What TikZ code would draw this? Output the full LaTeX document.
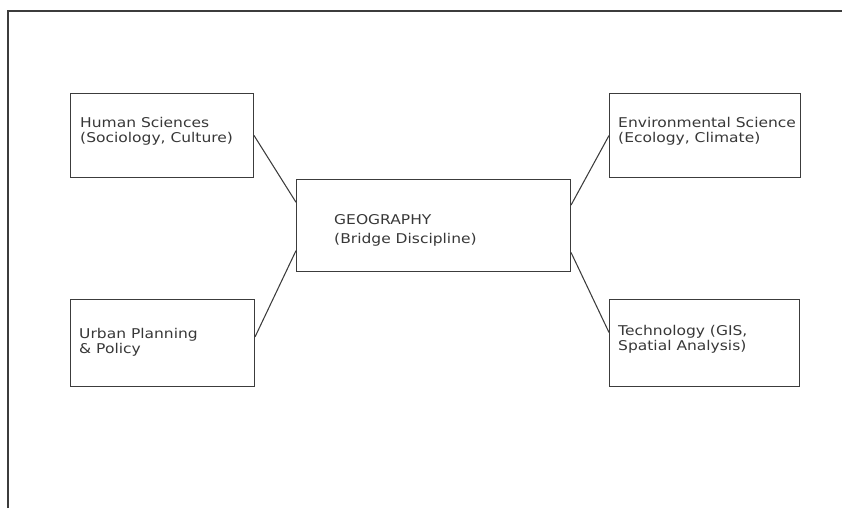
\documentclass[tikz,border=0pt]{standalone}
\usepackage{fontspec}
\setmainfont{DejaVu Sans}[FakeStretch=1.15]
\usepackage{tikz}
\usetikzlibrary{positioning, calc}
\definecolor{linedark}{RGB}{60, 60, 60}
\definecolor{textdark}{RGB}{55, 55, 55}

\begin{document}
\begin{tikzpicture}[
        box/.style={draw=linedark, line width=0.9pt, anchor=north west, inner sep=0pt},
        txt/.style={anchor=north west, inner sep=0pt, align=left, text=textdark,
                    font=\fontsize{11.5}{12.8}\selectfont},
        link/.style={draw=linedark, line width=0.9pt}
      ]
        \useasboundingbox (0, 0) rectangle (25.26, 15.24);

        % Frame
        \draw[linedark, line width=0.9pt] (0.24, 0) -- (0.24, 14.91) -- (25.26, 14.91);

        % Centre
        \node[box, minimum width=8.22cm, minimum height=2.76cm] (geo) at (8.88, 9.87) {};
        \node[txt, font=\fontsize{11.5}{16.2}\selectfont] (geotxt) at (10.02, 8.82)
              {GEOGRAPHY\\(Bridge Discipline)};

        % Left side
        \node[box, minimum width=5.49cm, minimum height=2.52cm] (hum) at (2.1, 12.45) {};
        \node[txt] (humtxt) at (2.4, 11.73) {Human Sciences\\(Sociology, Culture)};

        \node[box, minimum width=5.52cm, minimum height=2.61cm] (urb) at (2.1, 6.27) {};
        \node[txt] (urbtxt) at (2.37, 5.4) {Urban Planning\\\& Policy};

        % Right side
        \node[box, minimum width=5.73cm, minimum height=2.52cm] (env) at (18.27, 12.45) {};
        \node[txt] (envtxt) at (18.54, 11.73) {Environmental Science\\(Ecology, Climate)};

        \node[box, minimum width=5.7cm, minimum height=2.61cm] (tech) at (18.27, 6.27) {};
        \node[txt] (techtxt) at (18.54, 5.49) {Technology (GIS,\\Spatial Analysis)};

        % Connections
        \coordinate (gl1) at ($(geo.north west)!0.25!(geo.south west)$);
        \coordinate (gl2) at ($(geo.north west)!0.77!(geo.south west)$);
        \coordinate (gr1) at ($(geo.north east)!0.28!(geo.south east)$);
        \coordinate (gr2) at ($(geo.north east)!0.79!(geo.south east)$);
        \coordinate (urbe) at ($(urb.north east)!0.43!(urb.south east)$);
        \coordinate (techw) at ($(tech.north west)!0.38!(tech.south west)$);

        \draw[link] (hum.east) -- (gl1);
        \draw[link] (urbe) -- (gl2);
        \draw[link] (env.west) -- (gr1);
        \draw[link] (techw) -- (gr2);
      \end{tikzpicture}
\end{document}
